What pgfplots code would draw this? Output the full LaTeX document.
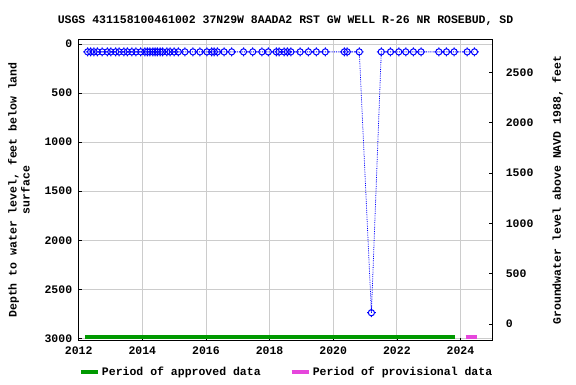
\documentclass[border=0pt]{standalone}
\usepackage{pgfplots}
\pgfplotsset{compat=1.18}
\usepackage{fontspec}
\setmainfont{Liberation Mono}
\definecolor{appr}{RGB}{0,153,0}
\definecolor{prov}{RGB}{230,70,220}
\definecolor{gridc}{RGB}{204,204,204}
\pgfdeclareplotmark{usgs}{%
  \pgfpathcircle{\pgfpointorigin}{3.1pt}%
  \pgfpathmoveto{\pgfpoint{0pt}{3.1pt}}\pgfpathlineto{\pgfpoint{0pt}{4.4pt}}%
  \pgfpathmoveto{\pgfpoint{0pt}{-3.1pt}}\pgfpathlineto{\pgfpoint{0pt}{-4.4pt}}%
  \pgfpathmoveto{\pgfpoint{3.1pt}{0pt}}\pgfpathlineto{\pgfpoint{4.4pt}{0pt}}%
  \pgfpathmoveto{\pgfpoint{-3.1pt}{0pt}}\pgfpathlineto{\pgfpoint{-4.4pt}{0pt}}%
  \pgfusepathqstroke}
\newcommand{\tf}{\fontsize{11.5}{13}\selectfont\bfseries}
\begin{document}
\begin{tikzpicture}[x=1pt,y=1pt]
\path[use as bounding box] (0,0) rectangle (576,384);
\begin{axis}[
  at={(78.7pt,43.3pt)}, anchor=south west,
  scale only axis, width=413.6pt, height=301.4pt,
  xmin=2012, xmax=2025,
  ymin=-48, ymax=3024, y dir=reverse,
  xtick={2012,2014,...,2024},
  ytick={0,500,...,3000},
  grid=major, major grid style={gridc, line width=0.8pt},
  tick style={black, line width=0.6pt}, major tick length=3pt,
  axis line style={black, line width=1pt},
  tick align=inside,
  ytick pos=left, xtick pos=bottom,
  /pgf/number format/assume math mode=true,
  /pgf/number format/1000 sep={},
  tick label style={font=\tf},
  xticklabel style={yshift=-3pt},
  yticklabel style={xshift=-3pt},
  title={USGS 431158100461002 37N29W 8AADA2 RST GW WELL R-26 NR ROSEBUD, SD},
  title style={font=\tf, yshift=4pt},
  ylabel={Depth to water level, feet below land\\surface},
  ylabel style={font=\tf, align=center, yshift=8pt},
  legend columns=2,
  legend style={at={(0.0,-0.104)}, anchor=west, draw=none, fill=none,
    font=\tf, inner sep=0pt, /tikz/every even column/.append style={column sep=27pt}},
  legend cell align=left,
  clip=false,
]
\addplot[blue, densely dotted, line width=0.8pt, mark=usgs, mark size=3pt,
  mark options={solid, line width=1pt, blue}, forget plot] coordinates {
(2012.28,80) (2012.375,80) (2012.48,80) (2012.59,80) (2012.74,80) (2012.90,80)
(2013.01,80) (2013.16,80) (2013.27,80) (2013.42,80) (2013.53,80) (2013.67,80)
(2013.80,80) (2013.95,80) (2014.08,80) (2014.16,80) (2014.24,80) (2014.33,80)
(2014.40,80) (2014.47,80) (2014.56,80) (2014.64,80) (2014.77,80) (2014.87,80)
(2015.00,80) (2015.13,80) (2015.34,80) (2015.59,80) (2015.81,80) (2016.03,80)
(2016.18,80) (2016.26,80) (2016.36,80) (2016.57,80) (2016.81,80) (2017.18,80)
(2017.47,80) (2017.76,80) (2017.96,80) (2018.21,80) (2018.30,80) (2018.46,80)
(2018.56,80) (2018.67,80) (2018.96,80) (2019.22,80) (2019.47,80) (2019.75,80)
(2020.35,80) (2020.44,80) (2020.82,80) (2021.20,2739) (2021.51,80) (2021.80,80)
(2022.06,80) (2022.28,80) (2022.52,80) (2022.76,80) (2023.32,80) (2023.56,80)
(2023.80,80) (2024.21,80) (2024.44,80)
};
\addplot[appr, line width=4pt] coordinates {(2012.2,2985) (2023.84,2985)};
\addlegendentry{Period of approved data}
\addplot[prov, line width=4pt] coordinates {(2024.16,2985) (2024.51,2985)};
\addlegendentry{Period of provisional data}
\end{axis}
\begin{axis}[
  at={(78.7pt,43.3pt)}, anchor=south west,
  scale only axis, width=413.6pt, height=301.4pt,
  xmin=2012, xmax=2025, axis x line=none,
  ymin=-166, ymax=2830,
  axis y line*=right,
  ytick={0,500,...,2500},
  tick style={black, line width=0.6pt}, major tick length=3pt,
  axis line style={black, line width=1pt},
  tick align=inside,
  /pgf/number format/assume math mode=true,
  /pgf/number format/1000 sep={},
  tick label style={font=\tf},
  yticklabel style={xshift=10pt},
  ylabel={Groundwater level above NAVD 1988, feet},
  ylabel style={font=\tf, yshift=-12pt},
]
\addplot[draw=none] coordinates {(2012,0)};
\end{axis}
\end{tikzpicture}
\end{document}
